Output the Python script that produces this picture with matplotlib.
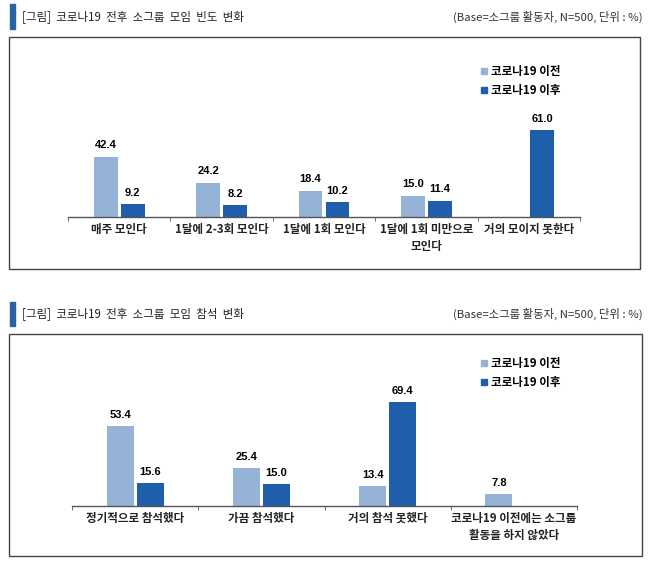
import matplotlib
matplotlib.use('Agg')
import matplotlib.pyplot as plt
from matplotlib.patches import Rectangle
from matplotlib.lines import Line2D

plt.rcParams['font.family'] = ['Noto Sans CJK KR', 'DejaVu Sans']

# data
freq_cats = ['매주 모인다', '1달에 2-3회 모인다', '1달에 1회 모인다', '1달에 1회 미만으로\n모인다', '거의 모이지 못한다']
freq_before = [42.4, 24.2, 18.4, 15.0, None]
freq_after = [9.2, 8.2, 10.2, 11.4, 61.0]

att_cats = ['정기적으로 참석했다', '가끔 참석했다', '거의 참석 못했다', '코로나19 이전에는 소그룹\n활동을 하지 않았다']
att_before = [53.4, 25.4, 13.4, 7.8]
att_after = [15.6, 15.0, 69.4, None]

series_names = ['코로나19 이전', '코로나19 이후']
titles = ['[그림]  코로나19  전후  소그룹  모임  빈도  변화', '[그림]  코로나19  전후  소그룹  모임  참석  변화']
base_note = '(Base=소그룹 활동자, N=500, 단위 : %)'

LIGHT = '#95b3d7'
DARK = '#1f5eab'
MARK = '#2a62a8'

W, H = 654, 568
fig = plt.figure(figsize=(W / 100, H / 100), dpi=100)


def fx(px):
    return px / W


def fy(py):
    return 1 - py / H


def header(y_top, y_bot, title):
    fig.patches.append(Rectangle((fx(10), fy(y_bot)), fx(5), (y_bot - y_top) / H,
                                 transform=fig.transFigure, color=MARK))
    yc = fy((y_top + y_bot) / 2)
    fig.text(fx(22), yc, title, fontsize=8.3, va='center', ha='left', color='#222222')
    fig.text(fx(643), yc, base_note, fontsize=8.2, va='center', ha='right', color='#333333')


def box(x0, y0, x1, y1):
    fig.patches.append(Rectangle((fx(x0), fy(y1)), (x1 - x0) / W, (y1 - y0) / H,
                                 transform=fig.transFigure, fill=False,
                                 edgecolor='#444444', linewidth=1.0))


def panel(left, right, base, top, ymax, cats, before, after, width, off, leg_y):
    ax = fig.add_axes([fx(left), fy(base), (right - left) / W, (base - top) / H])
    n = len(cats)
    xs = list(range(n))
    for i in xs:
        if before[i] is not None:
            ax.bar(i - off, before[i], width, color=LIGHT)
            ax.text(i - off, before[i] + ymax * 0.035, f'{before[i]:.1f}', ha='center', va='bottom',
                    fontsize=8, fontweight='bold', family=['Liberation Sans', 'DejaVu Sans'])
        if after[i] is not None:
            ax.bar(i + off, after[i], width, color=DARK)
            ax.text(i + off, after[i] + ymax * 0.035, f'{after[i]:.1f}', ha='center', va='bottom',
                    fontsize=8, fontweight='bold', family=['Liberation Sans', 'DejaVu Sans'])
    ax.set_xlim(-0.5, n - 0.5)
    ax.set_ylim(0, ymax)
    for s in ['top', 'left', 'right']:
        ax.spines[s].set_visible(False)
    ax.spines['bottom'].set_color('#555555')
    ax.spines['bottom'].set_linewidth(1.0)
    ax.set_yticks([])
    ax.set_xticks(xs)
    ax.set_xticklabels(cats, fontsize=8.3, fontweight='bold', color='#222222', linespacing=1.45)
    ax.tick_params(axis='x', which='major', length=0, pad=4)
    ax.set_xticks([i - 0.5 for i in range(n + 1)], minor=True)
    ax.tick_params(axis='x', which='minor', length=3, color='#555555', direction='out')
    ax.patch.set_alpha(0)
    handles = [Line2D([], [], marker='s', linestyle='none', markersize=4.5, color=LIGHT),
               Line2D([], [], marker='s', linestyle='none', markersize=4.5, color=DARK)]
    fig.legend(handles, series_names, loc='upper left', bbox_to_anchor=(fx(481), fy(leg_y)),
               frameon=False, handlelength=0.6, handletextpad=0.3, labelspacing=0.5,
               borderaxespad=0, borderpad=0,
               prop={'size': 8.3, 'weight': 'bold', 'family': ['Noto Sans CJK KR']})
    return ax


# panel 1
header(4, 29, titles[0])
box(9, 37, 640, 269)
panel(68, 580, 217, 37, 126.3, freq_cats, freq_before, freq_after, 0.234, 0.132, 65)

# panel 2
header(302, 326, titles[1])
box(9, 334, 642, 556)
panel(72, 577, 506, 334, 115.0, att_cats, att_before, att_after, 0.214, 0.119, 357)

fig.savefig('out.png', dpi=100)
